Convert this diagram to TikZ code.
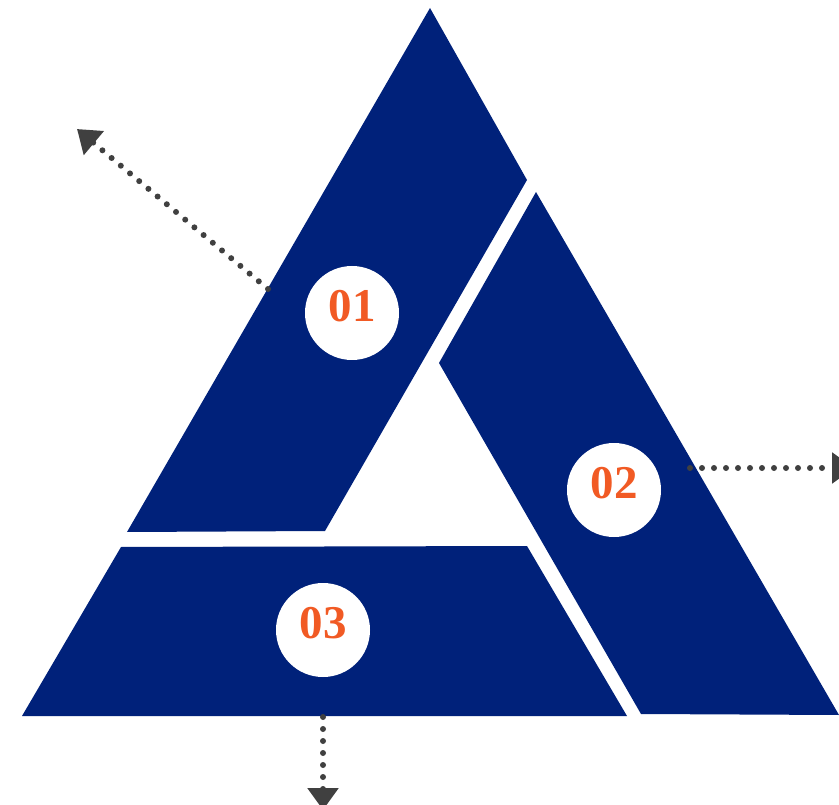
\documentclass[tikz,border=0pt]{standalone}
\usepackage{fontspec}
\setmainfont{Liberation Serif}
\usetikzlibrary{arrows.meta}
\definecolor{azul}{RGB}{0,33,122}
\definecolor{naranja}{RGB}{241,90,36}
\definecolor{gris}{RGB}{64,64,64}
\newcommand{\numtxt}[1]{\raisebox{14pt}{#1}}
\tikzset{
  pieza/.style={fill=azul},
  numero/.style={circle, fill=white, minimum size=94pt, inner sep=0pt,
    text=naranja, font=\fontsize{47}{47}\selectfont\bfseries},
  flecha/.style={gris, line width=6pt, line cap=round,
    dash pattern=on 0pt off 12pt, -{Triangle[length=22pt,width=30pt]}}
}
\begin{document}
\begin{tikzpicture}[x=1pt, y=-1pt]
    \useasboundingbox (0,0) rectangle (839,805);

    % pieza izquierda
    \fill[pieza] (430,8) -- (527,180) -- (325,531) -- (127,532) -- cycle;
    % pieza derecha
    \fill[pieza] (536,192) -- (839,715) -- (641,714) -- (439,363) -- cycle;
    % pieza inferior
    \fill[pieza] (121,547) -- (527,546) -- (627,716) -- (22,716) -- cycle;

    % numeros
    \node[numero] (n1) at (352,313) {\numtxt{01}};
    \node[numero] (n2) at (614,490) {\numtxt{02}};
    \node[numero] (n3) at (323,630) {\numtxt{03}};

    % flechas punteadas
    \coordinate (a1) at (268,289);
    \coordinate (p1) at (77,129);
    \coordinate (a2) at (690,468);
    \coordinate (p2) at (854,468);
    \coordinate (a3) at (323,717);
    \coordinate (p3) at (323,810);
    \draw[flecha] (a1) -- (p1);
    \draw[flecha] (a2) -- (p2);
    \draw[flecha] (a3) -- (p3);
\end{tikzpicture}
\end{document}
